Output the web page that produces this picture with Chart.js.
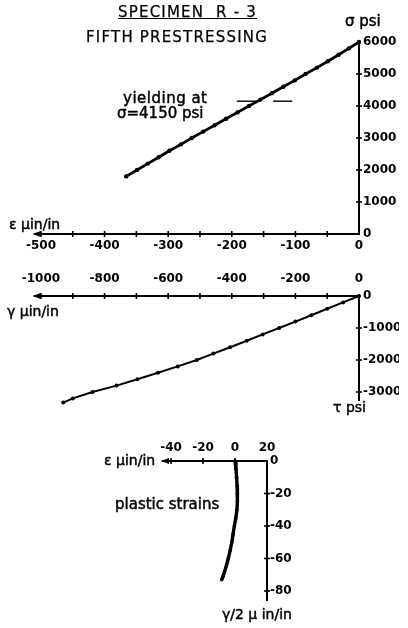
<!DOCTYPE html>
<html>
<head>
<meta charset="utf-8">
<script src="https://cdn.jsdelivr.net/npm/chart.js@4.4.0/dist/chart.umd.min.js"></script>
<style>
  body { margin: 0; background: #fff; }
  #wrap { position: relative; width: 408px; height: 628px; overflow: hidden; font-family: "DejaVu Sans", sans-serif; color: #000; }
  canvas { position: absolute; left: 0; top: 0; }
  .t { position: absolute; white-space: nowrap; line-height: 1; -webkit-text-stroke: 0.45px #000; }
</style>
</head>
<body>
<div id="wrap">
  <canvas id="topChart" width="408" height="628"></canvas>
  <canvas id="midChart" width="408" height="628"></canvas>
  <canvas id="lowChart" width="408" height="628"></canvas>

  <div class="t" style="left:118px;top:5px;font-size:15px;letter-spacing:1.2px;text-decoration:underline;-webkit-text-stroke:0.25px #000;">SPECIMEN&nbsp; R - 3</div>
  <div class="t" style="left:86px;top:30px;font-size:15px;letter-spacing:1.2px;-webkit-text-stroke:0.25px #000;">FIFTH PRESTRESSING</div>
  <div class="t" style="left:345px;top:14px;font-size:15px;">σ psi</div>
  <div class="t" style="left:123px;top:91px;font-size:15px;letter-spacing:0.5px;">yielding at</div>
  <div class="t" style="left:117px;top:106px;font-size:15px;">σ=4150 psi</div>
  <div class="t" style="left:9px;top:217px;font-size:14px;">ε μin/in</div>
  <div class="t" style="left:7px;top:304px;font-size:14px;">γ μin/in</div>
  <div class="t" style="left:333px;top:400px;font-size:14px;">τ psi</div>
  <div class="t" style="left:104px;top:453px;font-size:14px;">ε μin/in</div>
  <div class="t" style="left:115px;top:497px;font-size:15px;">plastic strains</div>
  <div class="t" style="left:222px;top:607px;font-size:14px;">γ/2 μ in/in</div>
</div>
<script>
// top panel: normal strain / normal stress
var epsTicks = [-500,-450,-400,-350,-300,-250,-200,-150,-100,-50,0];
var sigmaTicks = [0,1000,2000,3000,4000,5000,6000];
var sigmaData = [1800,2000,2200,2400,2600,2800,3000,3200,3400,3600,3800,4000,4200,4400,4600,4800,5000,5200,5400,5600,5800,6000];
var epsData = [-366,-349,-332,-315,-298,-280,-263,-245,-227,-209,-191,-173,-155,-137,-119,-101,-84,-66,-49,-32,-16,0];
var yieldSigma = 4150;
var yieldLeftEps = [-192,-160];
var yieldRightEps = [-135,-105];

// middle panel: shear strain / shear stress
var gammaTicks = [-1000,-900,-800,-700,-600,-500,-400,-300,-200,-100,0];
var tauTicks = [0,-1000,-2000,-3000];
var tauData = [0,-200,-400,-600,-800,-1000,-1200,-1400,-1600,-1800,-2000,-2200,-2400,-2600,-2800,-3000,-3200,-3330];
var gammaData = [0,-50,-100,-150,-200,-251,-303,-353,-405,-458,-510,-570,-632,-697,-762,-838,-900,-930];

// bottom panel: plastic strains
var plEpsTicks = [-40,-20,0,20];
var plGamTicks = [0,-20,-40,-60,-80];
var plGamData = [0,-5,-10,-15,-20,-25,-30,-35,-40,-45,-50,-55,-60,-64,-68,-71,-73];
var plEpsData = [0,0.6,1.0,1.3,1.5,1.5,1.2,0.5,-0.4,-1.2,-2.0,-3.0,-4.2,-5.3,-6.5,-7.5,-8.3];

Chart.defaults.font.family = '"DejaVu Sans", sans-serif';
Chart.defaults.font.size = 12;
Chart.defaults.font.weight = 'bold';
Chart.defaults.color = '#000';

function pts(xs, ys) {
  return xs.map(function (x, i) { return {x: x, y: ys[i]}; });
}

function axis(pos, min, max, tickVals, size, pad, labelFn) {
  return {
    type: 'linear', position: pos, min: min, max: max,
    grid: {display: false, drawTicks: false},
    border: {display: true, color: '#000', width: 2},
    ticks: {padding: pad, autoSkip: false, maxRotation: 0, color: '#000', font: {size: 12, weight: 'bold'},
      callback: labelFn || function (v) { return String(v); }},
    afterBuildTicks: function (s) { s.ticks = tickVals.map(function (v) { return {value: v}; }); },
    afterFit: function (s) { if (s.isHorizontal()) s.height = size; else s.width = size; }
  };
}

// little crosses on the axes and an arrow at the left end
var axisMarks = {
  id: 'axisMarks',
  afterDraw: function (chart) {
    var ctx = chart.ctx, a = chart.chartArea;
    ctx.save();
    ctx.strokeStyle = '#000';
    ctx.fillStyle = '#000';
    ctx.lineWidth = 1.6;
    Object.values(chart.scales).forEach(function (s) {
      var pos = s.options.position;
      s.ticks.forEach(function (t) {
        if (t.value === s.min || t.value === s.max) return;
        var p = s.getPixelForValue(t.value);
        ctx.beginPath();
        if (s.isHorizontal()) {
          var y = pos === 'top' ? a.top : a.bottom;
          ctx.moveTo(p, y - 3); ctx.lineTo(p, y + 3);
        } else {
          var x = pos === 'left' ? a.left : a.right;
          ctx.moveTo(x - 3, p); ctx.lineTo(x + 3, p);
        }
        ctx.stroke();
      });
      if (s.isHorizontal()) {
        var yy = s.options.position === 'top' ? a.top : a.bottom;
        ctx.beginPath();
        ctx.moveTo(a.left - 2, yy);
        ctx.lineTo(a.left + 6, yy - 3);
        ctx.lineTo(a.left + 6, yy + 3);
        ctx.closePath();
        ctx.fill();
      }
    });
    ctx.restore();
  }
};

function lineSet(data, width, radius) {
  return {data: data, showLine: true, borderColor: '#000', backgroundColor: '#000',
    borderWidth: width, pointRadius: radius, pointBorderWidth: 0, tension: 0, clip: false};
}

var baseOpts = {
  responsive: false, animation: false,
  plugins: {legend: {display: false}, tooltip: {enabled: false}}
};

function opts(padding, scales) {
  return Object.assign({}, baseOpts, {layout: {padding: padding}, scales: scales});
}

new Chart(document.getElementById('topChart').getContext('2d'), {
  type: 'scatter',
  data: {datasets: [
    lineSet(pts(epsData, sigmaData), 2.8, 2.2),
    lineSet(pts(yieldLeftEps, [yieldSigma, yieldSigma]), 1.4, 0),
    lineSet(pts(yieldRightEps, [yieldSigma, yieldSigma]), 1.4, 0)
  ]},
  options: opts({left: 34.6, right: 9, top: 42, bottom: 364}, {
    x: axis('bottom', -510, 0, epsTicks, 30, 5, function (v) { return v % 100 === 0 ? String(v) : ''; }),
    y: axis('right', 0, 6000, sigmaTicks, 40, 4)
  }),
  plugins: [axisMarks]
});

new Chart(document.getElementById('midChart').getContext('2d'), {
  type: 'scatter',
  data: {datasets: [lineSet(pts(gammaData, tauData), 2, 2)]},
  options: opts({left: 34.6, right: 9, top: 271, bottom: 228}, {
    x: axis('top', -1020, 0, gammaTicks, 25, 10, function (v) { return v % 200 === 0 ? String(v) : ''; }),
    y: axis('right', -3250, 0, tauTicks, 40, 4)
  }),
  plugins: [axisMarks]
});

new Chart(document.getElementById('lowChart').getContext('2d'), {
  type: 'scatter',
  data: {datasets: [lineSet(pts(plEpsData, plGamData), 3.4, 1.8)]},
  options: opts({left: 163, right: 111, top: 441, bottom: 27.25}, {
    x: axis('top', -45, 20, plEpsTicks, 20, 6),
    y: axis('right', -86, 0, plGamTicks, 30, 3)
  }),
  plugins: [axisMarks]
});
</script>
</body>
</html>
